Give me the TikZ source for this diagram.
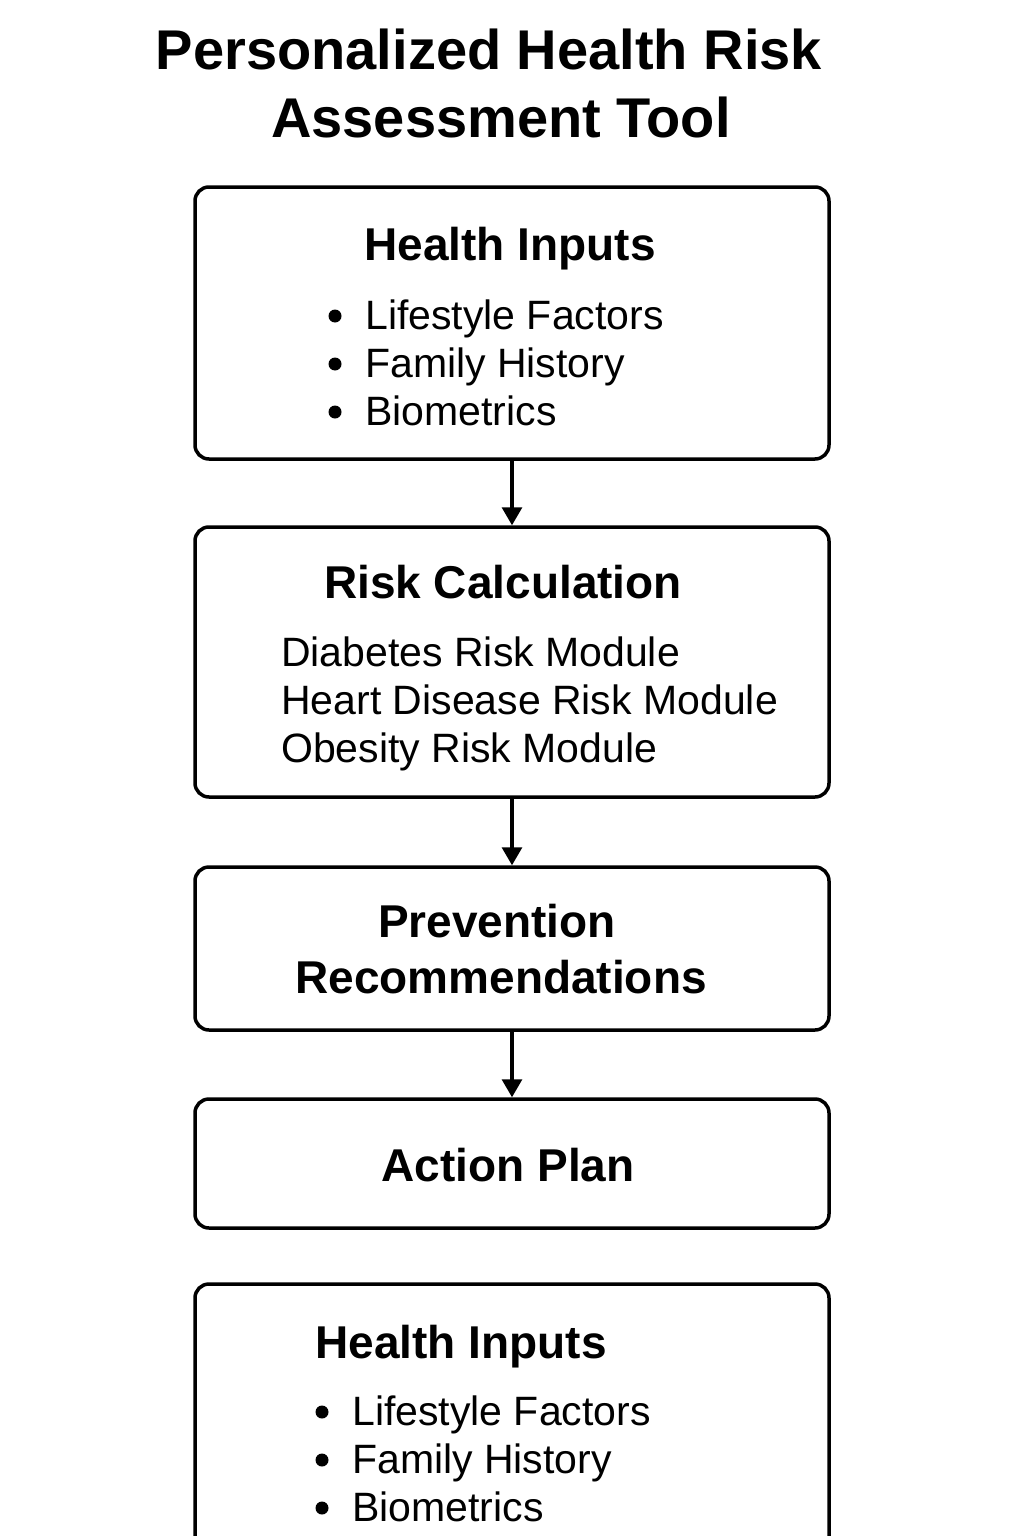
\documentclass[tikz,border=0pt]{standalone}
\usepackage{fontspec}
\setmainfont{Liberation Sans}
\usetikzlibrary{arrows.meta}
\tikzset{
  box/.style={draw=black, line width=3.5pt, rounded corners=14pt, minimum width=634pt, inner sep=0pt},
  arr/.style={line width=3.2pt, -{Triangle[width=20pt,length=18pt]}},
  ttl/.style={font=\fontsize{56}{60}\selectfont\bfseries, anchor=base, inner sep=0pt},
  hd/.style={font=\fontsize{46}{50}\selectfont\bfseries, anchor=base, inner sep=0pt},
  itm/.style={font=\fontsize{41}{45}\selectfont, anchor=base west, inner sep=0pt},
  dot/.style={circle, fill=black, minimum size=13pt, inner sep=0pt}
}
\begin{document}
\begin{tikzpicture}[x=1pt,y=-1pt]
\useasboundingbox (0,0) rectangle (1024,1536);
\clip (0,0) rectangle (1024,1536);
\fill[white] (0,0) rectangle (1024,1536);
% title
\node[ttl] (t1) at (489,70) {Personalized Health Risk};
\node[ttl] (t2) at (501,138) {Assessment Tool};
% boxes
\node[box, minimum height=272pt] (b1) at (512,323) {};
\node[box, minimum height=270pt] (b2) at (512,662) {};
\node[box, minimum height=163pt] (b3) at (512,948.5) {};
\node[box, minimum height=129pt] (b4) at (512,1163.5) {};
\node[box, minimum height=300pt] (b5) at (512,1434) {};
% box 1
\node[hd] (h1) at (510,260) {Health Inputs};
\node[dot] (d11) at (335,316) {};
\node[dot] (d12) at (335,364) {};
\node[dot] (d13) at (335,412) {};
\node[itm] (i11) at (365,329) {Lifestyle Factors};
\node[itm] (i12) at (365,377) {Family History};
\node[itm] (i13) at (365,425) {Biometrics};
% box 2
\node[hd] (h2) at (503,598) {Risk Calculation};
\node[itm] (i21) at (281,666) {Diabetes Risk Module};
\node[itm] (i22) at (281,714) {Heart Disease Risk Module};
\node[itm] (i23) at (281,762) {Obesity Risk Module};
% box 3
\node[hd] (h3a) at (497,937) {Prevention};
\node[hd] (h3b) at (501,993) {Recommendations};
% box 4
\node[hd] (h4) at (508,1181) {Action Plan};
% box 5
\node[hd] (h5) at (461,1358) {Health Inputs};
\node[dot] (d51) at (322,1412) {};
\node[dot] (d52) at (322,1460) {};
\node[dot] (d53) at (322,1508) {};
\node[itm] (i51) at (352,1425) {Lifestyle Factors};
\node[itm] (i52) at (352,1473) {Family History};
\node[itm] (i53) at (352,1521) {Biometrics};
% arrows
\draw[arr] (b1.south) -- (b2.north);
\draw[arr] (b2.south) -- (b3.north);
\draw[arr] (b3.south) -- (b4.north);
\end{tikzpicture}
\end{document}
